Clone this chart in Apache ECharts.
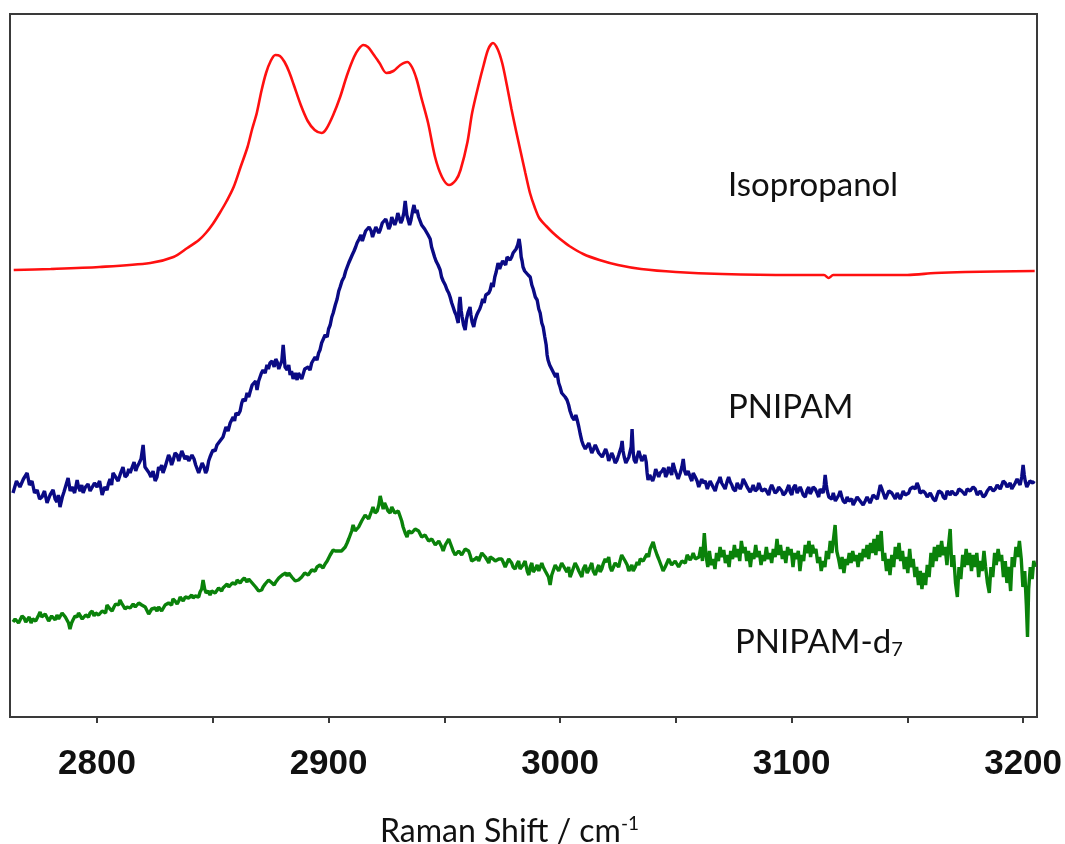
<!DOCTYPE html>
<html>
<head>
<meta charset="utf-8">
<script src="https://cdn.jsdelivr.net/npm/echarts@6/dist/echarts.min.js"></script>
<style>html,body{margin:0;padding:0;background:#fff}#c{width:1065px;height:844px}</style>
</head>
<body>
<div id="c"></div>
<script>
// Raman shift (cm-1), intensity (arbitrary offset units)
const isopropanol = [
[2764,447],[2780,448],[2801,450],[2823,454],[2833,460],[2839,469],[2844,477],[2847,484],[2850,493],[2853,504],[2856,516],[2859,530],[2862,550],[2865,570],[2867,588],[2869,604],[2871,626],[2873,644],[2875,656],[2877,662],[2879,661],[2881,655],[2883,645],[2885,632],[2888,612],[2891,596],[2894,587],[2897,584],[2899,588],[2902,602],[2905,620],[2908,642],[2911,660],[2913,668],[2915,672],[2917,670],[2919,664],[2922,654],[2925,644],[2928,646],[2931,652],[2934,655],[2936,650],[2938,638],[2940,620],[2943,594],[2946,560],[2949,540],[2952,532],[2955,537],[2957,547],[2960,575],[2962,604],[2965,634],[2967,652],[2969,668],[2971,674],[2973,668],[2975,654],[2977,632],[2979,608],[2981,586],[2983,565],[2985,544],[2987,524],[2989,510],[2991,499],[2994,491],[2997,484],[3000,478],[3004,471],[3010,463],[3017,457],[3025,452],[3035,448],[3050,445],[3070,443],[3100,442],[3114,442],[3116,439],[3118,442],[3150,442],[3162,444],[3175,445],[3205,446]
];
const pnipam = [
[2763.7,224],[2765.2,236],[2766.7,230],[2768.2,238],[2769.8,244],[2770.8,232],[2771.9,236],[2773.0,224],[2774.1,227],[2775.2,218],[2776.2,220],[2777.3,226],[2778.4,214],[2779.7,222],[2781.0,227],[2781.9,218],[2782.7,215],[2783.3,222],[2784.0,210],[2785.0,220],[2785.7,225],[2786.6,232],[2787.5,239],[2788.4,226],[2789.2,230],[2790.3,224],[2791.4,237],[2792.0,230],[2792.7,226],[2793.4,232],[2794.0,224],[2795.0,230],[2796.1,233],[2797.0,226],[2797.8,228],[2798.9,234],[2800.0,230],[2801.1,236],[2802.2,222],[2803.3,230],[2804.3,227],[2805.0,234],[2805.6,238],[2806.3,232],[2806.9,244],[2808.0,240],[2809.1,236],[2810.2,244],[2811.2,250],[2812.1,240],[2813.0,242],[2813.7,248],[2814.3,244],[2815.2,250],[2816.0,255],[2816.7,246],[2817.3,250],[2818.2,254],[2819.0,258],[2819.9,272],[2820.7,250],[2821.6,247],[2822.5,244],[2823.3,240],[2824.2,246],[2825.1,236],[2825.9,240],[2826.6,250],[2827.2,247],[2827.9,252],[2828.5,244],[2829.4,250],[2830.2,252],[2830.9,262],[2831.5,259],[2832.2,252],[2832.8,256],[2833.7,264],[2834.6,262],[2835.3,256],[2835.9,258],[2836.6,266],[2837.2,264],[2838.0,258],[2838.9,261],[2839.6,256],[2840.2,255],[2841.0,262],[2841.9,258],[2842.6,252],[2843.2,252],[2843.9,244],[2844.5,246],[2845.4,254],[2846.2,250],[2846.9,244],[2847.5,247],[2848.2,256],[2848.8,260],[2849.5,264],[2850.1,267],[2851.0,266],[2851.8,272],[2852.5,270],[2853.1,276],[2853.8,274],[2854.4,280],[2855.1,282],[2855.7,290],[2856.6,286],[2857.5,294],[2858.1,292],[2858.8,300],[2859.4,296],[2860.0,304],[2860.9,302],[2861.8,306],[2862.5,314],[2863.1,318],[2864.0,316],[2864.8,324],[2865.5,320],[2866.1,325],[2867.0,332],[2867.8,330],[2868.5,336],[2869.1,327],[2869.8,336],[2870.4,340],[2871.0,344],[2871.7,347],[2872.6,344],[2873.4,352],[2874.0,348],[2874.7,354],[2875.6,356],[2876.5,350],[2877.2,358],[2877.8,355],[2878.5,348],[2879.1,352],[2879.8,356],[2880.4,372],[2881.2,350],[2882.1,347],[2882.8,352],[2883.4,342],[2884.0,346],[2884.7,338],[2885.6,344],[2886.4,337],[2887.0,344],[2887.7,342],[2888.4,338],[2889.0,340],[2889.7,348],[2890.3,346],[2891.2,350],[2892.0,347],[2892.7,354],[2893.3,352],[2894.2,360],[2895.0,357],[2895.7,364],[2896.3,367],[2897.0,374],[2897.6,372],[2898.5,382],[2899.4,380],[2900.0,388],[2900.7,392],[2901.4,400],[2902.0,404],[2902.9,412],[2903.7,418],[2904.4,426],[2905.0,430],[2905.8,436],[2906.7,440],[2907.4,446],[2908.0,448],[2908.7,454],[2909.3,452],[2910.2,462],[2911.0,466],[2911.7,470],[2912.3,474],[2913.2,478],[2914.0,482],[2914.6,476],[2915.3,478],[2916.0,486],[2916.6,484],[2917.5,490],[2918.4,486],[2919.0,480],[2919.7,482],[2920.4,490],[2921.0,489],[2921.7,484],[2922.3,487],[2923.2,494],[2924.0,492],[2924.7,498],[2925.3,494],[2926.0,488],[2926.6,491],[2927.3,500],[2927.9,498],[2928.6,492],[2929.2,496],[2929.9,504],[2930.5,502],[2931.2,494],[2931.8,497],[2932.5,504],[2933.1,516],[2933.8,502],[2934.4,500],[2935.0,492],[2935.6,497],[2936.3,506],[2936.9,512],[2937.6,504],[2938.2,507],[2938.9,500],[2939.5,498],[2940.2,492],[2940.8,492],[2941.5,488],[2942.1,486],[2943.0,482],[2943.9,478],[2944.5,470],[2945.2,468],[2945.8,460],[2946.4,456],[2947.3,452],[2948.2,447],[2948.8,440],[2949.5,436],[2950.4,432],[2951.2,427],[2951.9,424],[2952.5,420],[2953.2,414],[2953.8,410],[2954.5,405],[2955.1,402],[2956.0,394],[2956.4,412],[2956.8,420],[2957.3,406],[2957.7,400],[2958.3,392],[2959.0,387],[2959.6,398],[2960.3,405],[2961.1,410],[2961.5,402],[2962.0,395],[2962.7,390],[2963.3,397],[2964.0,402],[2964.6,405],[2965.3,408],[2965.9,412],[2966.6,418],[2967.2,414],[2967.9,422],[2968.5,420],[2969.2,424],[2969.8,427],[2970.5,434],[2971.1,430],[2971.8,440],[2972.4,445],[2973.2,454],[2973.9,448],[2974.5,452],[2975.2,456],[2975.8,458],[2976.5,452],[2977.1,460],[2977.8,462],[2978.4,457],[2979.1,460],[2979.7,464],[2980.4,462],[2981.0,468],[2981.7,472],[2982.3,478],[2982.8,470],[2983.2,460],[2983.6,456],[2984.0,450],[2984.7,446],[2985.3,444],[2986.2,442],[2987.1,440],[2987.8,432],[2988.4,428],[2989.3,420],[2990.1,417],[2990.8,408],[2991.4,404],[2992.1,394],[2992.7,390],[2993.4,380],[2994.0,372],[2994.4,362],[2994.8,357],[2995.5,352],[2996.1,350],[2996.8,346],[2997.4,344],[2998.1,340],[2998.7,344],[2999.4,334],[3000.0,330],[3000.7,324],[3001.3,322],[3002.2,320],[3003.0,317],[3003.7,312],[3004.3,306],[3005.2,300],[3006.1,297],[3006.8,302],[3007.4,297],[3008.1,290],[3008.7,283],[3009.4,276],[3010.0,272],[3010.9,268],[3011.7,267],[3012.4,274],[3013.0,272],[3013.7,264],[3014.3,267],[3015.2,272],[3016.0,270],[3016.7,264],[3017.3,265],[3018.2,260],[3019.0,262],[3019.7,268],[3020.3,264],[3021.0,256],[3021.6,258],[3022.3,264],[3022.9,261],[3023.8,254],[3024.6,257],[3025.3,262],[3025.9,264],[3026.4,270],[3026.8,276],[3027.2,266],[3027.7,260],[3028.4,254],[3029.0,256],[3029.7,260],[3030.3,262],[3030.7,270],[3031.1,288],[3031.6,264],[3032.0,257],[3032.7,254],[3033.3,260],[3034.0,266],[3034.6,264],[3035.3,256],[3035.9,259],[3036.6,262],[3037.2,255],[3037.6,244],[3038.0,237],[3038.7,242],[3039.3,244],[3040.0,236],[3040.6,240],[3041.3,248],[3041.9,246],[3042.6,240],[3043.2,244],[3044.1,246],[3044.9,249],[3045.6,240],[3046.2,243],[3046.9,250],[3047.5,248],[3048.2,242],[3048.8,254],[3049.5,248],[3050.1,244],[3051.0,238],[3051.9,244],[3052.6,250],[3053.2,258],[3053.8,246],[3054.4,242],[3055.3,246],[3056.2,240],[3056.9,236],[3057.5,244],[3058.4,240],[3059.2,236],[3059.9,230],[3060.5,232],[3061.2,238],[3061.8,234],[3062.7,236],[3063.6,228],[3064.2,232],[3064.8,236],[3065.5,238],[3066.1,230],[3067.0,226],[3067.8,233],[3068.5,236],[3069.1,240],[3069.8,234],[3070.4,232],[3071.3,228],[3072.2,236],[3072.8,240],[3073.5,235],[3074.2,232],[3074.8,228],[3075.7,226],[3076.5,234],[3077.2,232],[3077.8,228],[3078.5,232],[3079.1,238],[3080.0,234],[3080.8,230],[3081.5,228],[3082.1,225],[3082.8,228],[3083.4,232],[3084.3,226],[3085.2,228],[3085.8,234],[3086.4,232],[3087.1,226],[3087.7,224],[3088.6,228],[3089.4,230],[3090.1,222],[3090.7,228],[3091.4,232],[3092.0,229],[3092.9,224],[3093.8,226],[3094.4,230],[3095.1,232],[3095.8,226],[3096.4,222],[3097.3,224],[3098.1,228],[3098.8,232],[3099.4,225],[3100.1,222],[3100.7,229],[3101.6,232],[3102.4,224],[3103.1,226],[3103.7,230],[3104.4,226],[3105.0,222],[3105.9,220],[3106.7,227],[3107.4,230],[3108.0,223],[3108.7,226],[3109.3,230],[3110.2,228],[3111.0,224],[3111.7,220],[3112.3,228],[3113.0,230],[3113.6,224],[3114.1,232],[3114.5,242],[3115.0,232],[3115.4,226],[3116.1,220],[3116.7,222],[3117.4,218],[3118.0,224],[3118.9,216],[3119.7,218],[3120.4,222],[3121.0,226],[3121.7,220],[3122.3,216],[3123.2,214],[3124.0,220],[3124.7,216],[3125.3,214],[3126.0,218],[3126.6,212],[3127.5,216],[3128.3,220],[3129.0,222],[3129.6,216],[3130.3,214],[3130.9,212],[3131.8,216],[3132.6,220],[3133.3,218],[3133.9,214],[3134.6,218],[3135.2,222],[3136.1,220],[3137.0,218],[3137.6,224],[3138.3,232],[3139.0,228],[3139.6,224],[3140.5,218],[3141.3,220],[3142.0,226],[3142.6,228],[3143.3,224],[3143.9,222],[3144.8,218],[3145.6,224],[3146.3,222],[3146.9,218],[3147.6,222],[3148.2,226],[3149.1,222],[3149.9,220],[3150.6,224],[3151.2,228],[3151.9,226],[3152.5,230],[3153.4,228],[3154.2,234],[3154.9,230],[3155.5,224],[3156.2,222],[3156.8,226],[3157.7,224],[3158.6,220],[3159.3,218],[3159.9,224],[3160.6,222],[3161.2,218],[3162.1,216],[3162.9,222],[3163.6,226],[3164.2,228],[3164.9,224],[3165.5,220],[3166.4,218],[3167.2,226],[3167.9,224],[3168.5,222],[3169.2,226],[3169.8,228],[3170.7,222],[3171.6,224],[3172.2,228],[3172.8,230],[3173.5,226],[3174.1,224],[3175.0,222],[3175.8,228],[3176.5,230],[3177.1,226],[3177.8,224],[3178.4,230],[3179.3,228],[3180.2,222],[3180.9,220],[3181.5,226],[3182.2,224],[3182.8,220],[3183.7,222],[3184.5,226],[3185.2,228],[3185.8,230],[3186.5,228],[3187.1,226],[3188.0,228],[3188.8,232],[3189.5,230],[3190.1,228],[3190.8,232],[3191.4,236],[3192.3,234],[3193.1,230],[3193.8,232],[3194.4,234],[3195.1,228],[3195.7,230],[3196.6,234],[3197.4,238],[3198.1,236],[3198.7,232],[3199.4,240],[3200.0,252],[3200.5,242],[3200.9,236],[3201.6,230],[3202.2,232],[3202.9,236],[3203.5,238],[3204.2,234],[3204.8,236]
];
const pnipamD7 = [
[2763.7,95],[2764.6,98],[2765.4,100],[2766.1,94],[2766.7,96],[2767.6,101],[2768.5,99],[2769.2,95],[2769.8,97],[2770.7,100],[2771.5,94],[2772.2,98],[2772.8,100],[2773.5,96],[2774.1,98],[2774.8,102],[2775.4,105],[2776.1,100],[2776.7,99],[2777.6,103],[2778.4,101],[2779.1,96],[2779.7,97],[2780.4,101],[2781.0,99],[2781.9,97],[2782.7,102],[2783.4,98],[2784.0,100],[2784.9,104],[2785.7,103],[2786.3,100],[2787.0,98],[2787.7,94],[2788.3,88],[2789.0,94],[2789.6,97],[2790.5,101],[2791.4,100],[2792.0,104],[2792.7,103],[2793.6,98],[2794.4,99],[2795.1,102],[2795.7,104],[2796.3,100],[2797.0,104],[2797.9,106],[2798.7,101],[2799.4,104],[2800.0,106],[2800.7,102],[2801.3,103],[2802.2,106],[2803.0,108],[2803.7,104],[2804.3,112],[2805.0,110],[2805.6,108],[2806.5,106],[2807.3,110],[2808.0,113],[2808.6,114],[2809.3,112],[2809.9,117],[2810.6,114],[2811.2,112],[2812.1,108],[2813.0,110],[2813.7,112],[2814.3,109],[2815.0,111],[2815.6,113],[2816.5,110],[2817.3,111],[2818.0,114],[2818.6,115],[2819.3,112],[2819.9,114],[2820.8,110],[2821.6,108],[2822.3,103],[2822.9,104],[2823.6,108],[2824.2,110],[2825.1,109],[2825.9,106],[2826.6,110],[2827.2,112],[2827.9,106],[2828.5,108],[2829.4,112],[2830.2,110],[2830.9,114],[2831.5,115],[2832.2,112],[2832.8,118],[2833.7,116],[2834.6,113],[2835.3,116],[2835.9,120],[2836.6,118],[2837.2,116],[2838.1,120],[2838.9,122],[2839.6,119],[2840.2,118],[2840.9,122],[2841.5,119],[2842.4,121],[2843.2,122],[2843.9,120],[2844.5,125],[2845.2,128],[2845.8,137],[2846.5,128],[2847.1,124],[2848.0,126],[2848.8,122],[2849.5,126],[2850.1,128],[2851.0,124],[2851.8,126],[2852.5,129],[2853.1,130],[2853.8,126],[2854.4,129],[2855.3,131],[2856.2,133],[2856.9,130],[2857.5,131],[2858.4,134],[2859.2,136],[2859.9,133],[2860.5,137],[2861.2,139],[2861.8,134],[2862.7,137],[2863.6,139],[2864.2,137],[2864.8,135],[2865.5,138],[2866.1,137],[2867.0,134],[2867.8,133],[2868.5,130],[2869.1,128],[2869.8,126],[2870.4,124],[2871.1,127],[2871.7,130],[2872.6,133],[2873.4,135],[2874.1,137],[2874.7,138],[2875.6,134],[2876.5,132],[2877.2,135],[2877.8,137],[2878.5,139],[2879.1,140],[2880.0,142],[2880.8,143],[2881.5,144],[2882.1,141],[2882.8,144],[2883.4,145],[2884.1,140],[2884.7,138],[2885.6,136],[2886.4,134],[2887.0,137],[2887.7,136],[2888.4,140],[2889.0,141],[2889.7,144],[2890.3,145],[2891.2,142],[2892.0,144],[2892.7,147],[2893.3,148],[2894.2,146],[2895.0,150],[2895.7,148],[2896.3,152],[2897.0,150],[2897.6,149],[2898.5,153],[2899.4,156],[2900.0,158],[2900.7,162],[2901.4,160],[2902.0,167],[2902.9,166],[2903.7,164],[2904.4,166],[2905.0,168],[2905.6,166],[2906.3,164],[2907.2,170],[2908.0,174],[2908.7,178],[2909.3,180],[2910.0,186],[2910.6,192],[2911.5,186],[2912.3,188],[2913.0,190],[2913.6,192],[2914.3,196],[2914.9,198],[2915.8,202],[2916.6,204],[2917.3,198],[2917.9,200],[2918.6,206],[2919.2,210],[2920.1,204],[2921.0,206],[2921.7,212],[2922.3,221],[2923.0,214],[2923.6,208],[2924.2,214],[2924.8,212],[2925.7,206],[2926.6,204],[2927.3,210],[2927.9,208],[2928.6,204],[2929.2,202],[2930.1,206],[2930.9,204],[2931.6,196],[2932.2,190],[2933.1,184],[2933.9,180],[2934.6,186],[2935.2,188],[2935.9,184],[2936.5,182],[2937.4,188],[2938.2,190],[2938.9,186],[2939.5,184],[2940.2,180],[2940.8,178],[2941.7,182],[2942.5,180],[2943.2,176],[2943.9,174],[2944.6,178],[2945.2,176],[2946.1,172],[2946.9,170],[2947.6,176],[2948.2,174],[2948.9,170],[2949.5,166],[2950.4,172],[2951.2,170],[2951.9,178],[2952.5,176],[2953.2,170],[2953.8,166],[2954.7,162],[2955.5,160],[2956.2,166],[2956.8,168],[2957.5,162],[2958.1,164],[2959.0,168],[2959.8,170],[2960.5,166],[2961.1,162],[2961.8,156],[2962.4,154],[2963.3,158],[2964.2,160],[2964.8,156],[2965.5,158],[2966.2,164],[2966.8,162],[2967.7,160],[2968.5,157],[2969.2,154],[2969.8,160],[2970.5,162],[2971.1,158],[2972.0,156],[2972.8,154],[2973.5,158],[2974.1,160],[2974.8,158],[2975.4,155],[2976.3,150],[2977.1,152],[2977.8,158],[2978.4,156],[2979.1,154],[2979.7,150],[2980.6,148],[2981.4,153],[2982.1,156],[2982.7,148],[2983.4,146],[2984.0,152],[2984.9,156],[2985.8,146],[2986.5,142],[2987.1,150],[2987.8,154],[2988.4,145],[2989.3,148],[2990.1,152],[2990.8,146],[2991.4,148],[2992.1,154],[2992.7,150],[2993.6,146],[2994.4,144],[2995.0,140],[2995.7,132],[2996.4,142],[2997.0,146],[2997.9,152],[2998.7,150],[2999.4,146],[3000.0,148],[3000.7,154],[3001.3,152],[3002.2,148],[3003.0,145],[3003.7,150],[3004.3,140],[3005.0,144],[3005.6,146],[3006.5,154],[3007.4,150],[3008.1,146],[3008.7,144],[3009.4,140],[3010.0,148],[3010.9,152],[3011.7,144],[3012.4,146],[3013.0,150],[3013.7,154],[3014.3,146],[3015.2,142],[3016.0,148],[3016.7,152],[3017.3,145],[3018.0,148],[3018.6,153],[3019.5,158],[3020.3,155],[3021.0,160],[3021.6,150],[3022.3,146],[3022.9,147],[3023.8,154],[3024.6,152],[3025.3,150],[3025.9,156],[3026.6,162],[3027.2,160],[3028.1,156],[3029.0,152],[3029.7,146],[3030.3,148],[3031.0,152],[3031.6,146],[3032.5,150],[3033.3,155],[3034.0,152],[3034.6,158],[3035.3,160],[3035.9,156],[3036.8,160],[3037.6,163],[3038.2,160],[3038.9,168],[3039.5,170],[3040.2,175],[3041.0,168],[3041.9,162],[3042.6,158],[3043.2,156],[3043.9,150],[3044.5,146],[3045.4,150],[3046.2,152],[3046.9,158],[3047.5,156],[3048.2,152],[3048.8,150],[3049.7,156],[3050.5,154],[3051.2,150],[3051.9,152],[3052.6,156],[3053.2,158],[3054.1,154],[3054.9,162],[3055.6,160],[3056.2,157],[3056.9,160],[3057.5,164],[3058.4,158],[3059.2,156],
[3060.0,160],[3060.8,170],[3061.5,156],[3062.3,184],[3063.0,162],[3063.8,150],[3064.5,166],[3065.3,152],[3066.1,158],[3066.9,148],[3067.6,164],[3068.4,156],[3069.1,170],[3069.9,160],[3070.7,167],[3071.4,154],[3072.2,162],[3073.0,150],[3073.7,166],[3074.5,158],[3075.3,172],[3076.0,160],[3076.8,168],[3077.6,156],[3078.3,176],[3079.1,164],[3079.9,170],[3080.6,156],[3081.4,166],[3082.2,150],[3082.9,164],[3083.7,158],[3084.5,172],[3085.2,160],[3086.0,166],[3086.8,152],[3087.5,162],[3088.3,156],[3089.1,170],[3089.8,158],[3090.6,164],[3091.4,154],[3092.1,168],[3092.9,160],[3093.7,178],[3094.4,162],[3095.2,172],[3096.0,158],[3096.7,166],[3097.5,154],[3098.3,170],[3099.0,162],[3099.8,168],[3100.6,150],[3101.3,164],[3102.1,158],[3102.9,166],[3103.6,146],[3104.4,162],[3105.2,156],[3105.9,172],[3106.7,164],[3107.5,176],[3108.2,160],[3109.0,172],[3109.8,164],[3110.5,168],[3111.3,154],[3112.1,160],[3112.8,146],[3113.6,156],[3114.4,150],[3115.1,166],[3115.9,158],[3116.7,176],[3117.4,164],[3118.2,180],[3118.8,192],[3119.5,166],[3120.3,158],[3121.1,148],[3121.8,160],[3122.6,144],[3123.4,158],[3124.1,152],[3124.9,164],[3125.7,154],[3126.4,166],[3127.2,156],[3128.0,162],[3128.7,150],[3129.5,164],[3130.3,156],[3131.0,168],[3131.8,160],[3132.6,172],[3133.3,158],[3134.1,174],[3134.9,164],[3135.6,178],[3136.4,162],[3137.2,182],[3137.9,166],[3138.7,186],[3139.5,156],[3140.2,164],[3141.0,146],[3141.8,158],[3142.5,142],[3143.3,162],[3144.1,150],[3144.8,170],[3145.6,158],[3146.4,174],[3147.1,156],[3147.9,166],[3148.7,148],[3149.4,160],[3150.2,144],[3151.0,168],[3151.7,150],[3152.5,158],[3153.3,140],[3154.0,150],[3154.8,132],[3155.6,146],[3156.3,128],[3157.1,144],[3157.9,132],[3158.6,152],[3159.4,140],[3160.2,164],[3160.9,150],[3161.7,170],[3162.5,156],[3163.2,172],[3164.0,160],[3164.8,176],[3165.5,162],[3166.3,170],[3167.1,152],[3167.8,172],[3168.5,188],[3169.2,150],[3170.0,162],[3170.8,134],[3171.6,120],[3172.3,150],[3173.1,138],[3173.9,162],[3174.6,150],[3175.4,168],[3176.2,152],[3176.9,164],[3177.7,146],[3178.5,162],[3179.2,150],[3180.0,164],[3180.8,140],[3181.5,156],[3182.3,146],[3183.1,166],[3183.8,150],[3184.6,134],[3185.4,124],[3186.1,150],[3186.9,140],[3187.7,164],[3188.4,152],[3189.2,168],[3190.0,156],[3190.7,162],[3191.5,140],[3192.3,156],[3193.0,134],[3193.8,150],[3194.6,126],[3195.3,160],[3196.1,150],[3196.9,170],[3197.6,160],[3198.4,176],[3199.2,158],[3199.9,130],[3200.7,146],[3201.4,112],[3201.9,80],[3202.4,128],[3203.1,150],[3203.9,138],[3204.6,156],[3205.2,150]
];
const labelTicks = [2800, 2900, 3000, 3100, 3200];
const minorTicks = [2800, 2850, 2900, 2950, 3000, 3050, 3100, 3150, 3200];
const seriesNames = ['Isopropanol', 'PNIPAM', 'PNIPAM-d7'];

const chart = echarts.init(document.getElementById('c'), null, {renderer: 'canvas'});
chart.setOption({
  animation: false,
  backgroundColor: '#fff',
  grid: {left: 10, right: 28, top: 14, bottom: 127, show: true, borderColor: '#3a3a3a', borderWidth: 2, containLabel: false, outerBoundsMode: 'none'},
  xAxis: {
    type: 'value', min: 2762.4, max: 3206,
    axisLine: {show: true, lineStyle: {color: '#3a3a3a', width: 2}},
    axisTick: {show: true, customValues: minorTicks, length: 6, lineStyle: {color: '#3a3a3a', width: 2}},
    axisLabel: {customValues: labelTicks, formatter: function (v) { return String(v); }, fontFamily: 'Liberation Sans', fontWeight: 'bold', fontSize: 35, color: '#111', margin: 30},
    splitLine: {show: false},
    name: 'Raman Shift / cm{sup|-1}', nameLocation: 'middle', nameGap: 97,
    nameTextStyle: {fontFamily: 'Lato', fontSize: 32, color: '#111', padding: [0, 28, 0, 0], rich: {sup: {fontFamily: 'Lato', fontSize: 19, color: '#111', padding: [0, 0, 16, 0]}}}
  },
  yAxis: {type: 'value', min: 0, max: 703, show: false},
  series: [
    {name: seriesNames[0], type: 'line', data: isopropanol, smooth: 0.3, showSymbol: false, lineStyle: {color: '#ff1010', width: 2.6}},
    {name: seriesNames[1], type: 'line', data: pnipam, showSymbol: false, lineStyle: {color: '#0a0a84', width: 3.4}},
    {name: seriesNames[2], type: 'line', data: pnipamD7, showSymbol: false, lineStyle: {color: '#0a820a', width: 3.4}}
  ],
  graphic: [
    {type: 'text', left: 728, top: 169, style: {text: seriesNames[0], font: '33px Lato', fill: '#111'}},
    {type: 'text', left: 728, top: 391, style: {text: seriesNames[1], font: '33px Lato', fill: '#111'}},
    {type: 'text', left: 735, top: 626, style: {text: 'PNIPAM-d{sub|7}', font: '33px Lato', fill: '#111', rich: {sub: {fontFamily: 'Lato', fontSize: 20, fill: '#111', padding: [14, 0, 0, 0]}}}}
  ]
});
</script>
</body>
</html>
